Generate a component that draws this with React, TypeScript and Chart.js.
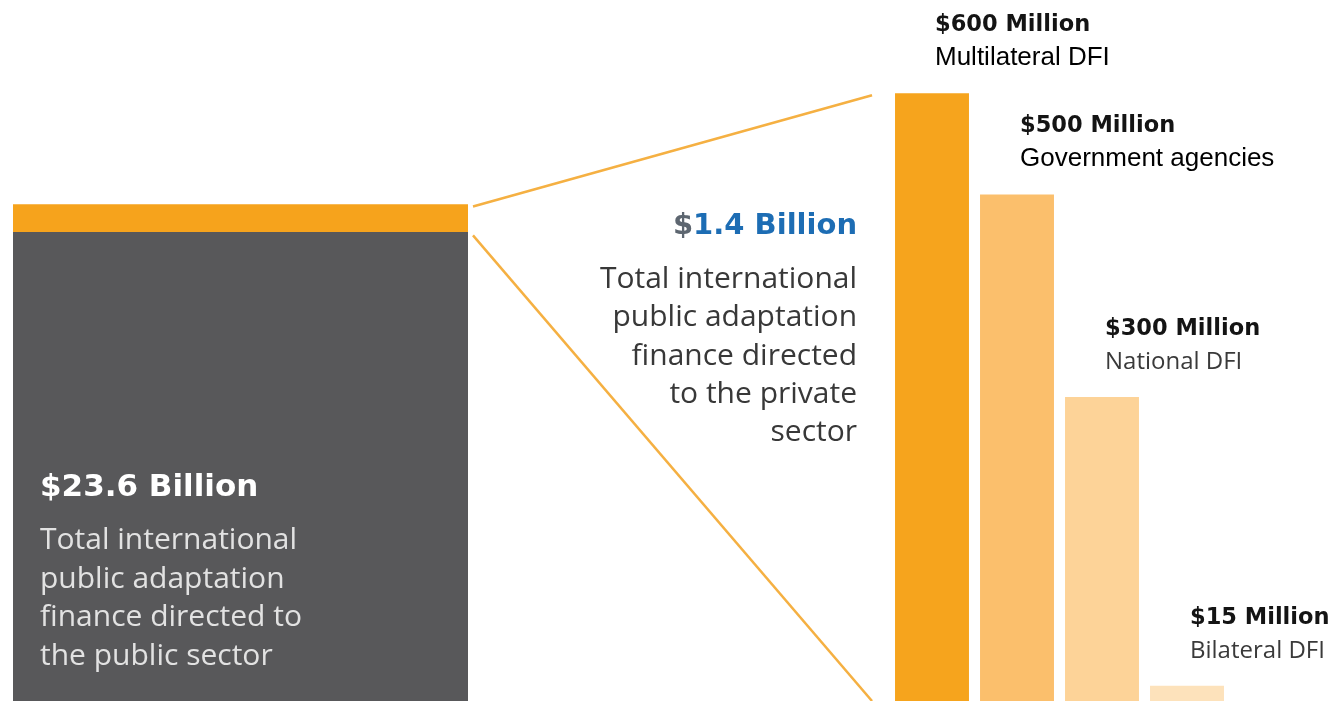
import React, { useEffect, useRef } from "react";
import { Chart, registerables } from "chart.js";

Chart.register(...registerables);

// ---- Data ----
const sectorLabels = ["International public adaptation finance"];
const publicSectorBillion = [23.6];
const privateSectorBillion = [1.4];

const channelCategories = ["Multilateral DFI", "Government agencies", "National DFI", "Bilateral DFI"];
const channelValuesMillion = [600, 500, 300, 15];
const channelValueLabels = ["$600 Million", "$500 Million", "$300 Million", "$15 Million"];

const publicTitle = "$23.6 Billion";
const publicLines = ["Total international", "public adaptation", "finance directed to", "the public sector"];
const privateTitleSign = "$";
const privateTitleRest = "1.4 Billion";
const privateLines = ["Total international", "public adaptation", "finance directed", "to the private", "sector"];

// ---- Styles ----
const GRAY = "#58585a";
const ORANGE = "#f6a31c";
const channelColors = ["#f6a41d", "#fbbf6c", "#fdd398", "#fde2bb"];
const LINE_COLOR = "#f5b042";

const LEFT_W = 470;
const RIGHT_W = 860;
const H = 701;

export default function App() {
  const leftRef = useRef<HTMLCanvasElement | null>(null);
  const rightRef = useRef<HTMLCanvasElement | null>(null);

  useEffect(() => {
    if (!leftRef.current || !rightRef.current) return;

    const leftTextPlugin = {
      id: "leftText",
      afterDatasetsDraw(chart: any) {
        const ctx = chart.ctx;
        const bar: any = chart.getDatasetMeta(0).data[0];
        const left = bar.x - bar.width / 2;
        const bottom = chart.chartArea.bottom;
        ctx.save();
        ctx.textAlign = "left";
        ctx.textBaseline = "alphabetic";
        ctx.fillStyle = "#ffffff";
        ctx.font = "bold 31px 'DejaVu Sans'";
        ctx.fillText(publicTitle, left + 27, bottom - 205);
        ctx.fillStyle = "#e2e2e2";
        ctx.font = "500 30px 'Open Sans'";
        publicLines.forEach((t, i) => {
          ctx.fillText(t, left + 27, bottom - 152 + i * 38.5);
        });
        ctx.restore();
      },
    };

    const leftChart = new Chart(leftRef.current, {
      type: "bar",
      data: {
        labels: sectorLabels,
        datasets: [
          {
            label: "Public sector",
            data: publicSectorBillion,
            backgroundColor: GRAY,
            barPercentage: 1,
            categoryPercentage: 1,
          },
          {
            label: "Private sector",
            data: privateSectorBillion,
            backgroundColor: ORANGE,
            barPercentage: 1,
            categoryPercentage: 1,
          },
        ],
      },
      options: {
        responsive: false,
        animation: false,
        layout: { padding: { left: 13, right: 2, top: 0, bottom: 0 } },
        plugins: { legend: { display: false }, tooltip: { enabled: false } },
        scales: {
          x: { stacked: true, display: false },
          y: { stacked: true, display: false, min: 0, max: 35.3 },
        },
      },
      plugins: [leftTextPlugin],
    });

    const rightPlugin = {
      id: "rightText",
      afterDatasetsDraw(chart: any) {
        const ctx = chart.ctx;
        const bars: any[] = chart.getDatasetMeta(0).data;
        // connector lines from the left stacked bar
        const lb: any = leftChart.getDatasetMeta(1).data[0];
        const lr = leftRef.current!.getBoundingClientRect();
        const rr = rightRef.current!.getBoundingClientRect();
        const dx = lr.left - rr.left;
        const startX = lb.x + lb.width / 2 + 5 + dx;
        const b0 = bars[0];
        const endX = b0.x - b0.width / 2 - 23;
        ctx.save();
        ctx.strokeStyle = LINE_COLOR;
        ctx.lineWidth = 2.5;
        ctx.beginPath();
        ctx.moveTo(startX, lb.y + 2);
        ctx.lineTo(endX, b0.y + 2);
        ctx.stroke();
        ctx.beginPath();
        ctx.moveTo(startX, lb.base + 3);
        ctx.lineTo(endX, b0.base);
        ctx.stroke();

        // middle text
        const rx = b0.x - b0.width / 2 - 38;
        ctx.textBaseline = "alphabetic";
        ctx.font = "bold 29px 'DejaVu Sans'";
        ctx.textAlign = "right";
        ctx.fillStyle = "#1d6db4";
        ctx.fillText(privateTitleRest, rx, 234);
        const w = ctx.measureText(privateTitleRest).width;
        ctx.fillStyle = "#5d6670";
        ctx.fillText(privateTitleSign, rx - w, 234);
        ctx.fillStyle = "#383838";
        ctx.font = "500 30px 'Open Sans'";
        privateLines.forEach((t, i) => {
          ctx.fillText(t, rx, 288 + i * 38.3);
        });

        // bar labels
        ctx.textAlign = "left";
        bars.forEach((b: any, i: number) => {
          const x = b.x + 3;
          ctx.fillStyle = "#141414";
          ctx.font = "bold 22.5px 'DejaVu Sans'";
          ctx.fillText(channelValueLabels[i], x, b.y - 62);
          if (i < 2) {
            ctx.fillStyle = "#000000";
            ctx.font = "26px 'Liberation Sans'";
          } else {
            ctx.fillStyle = "#3a3a3a";
            ctx.font = "500 24px 'Open Sans'";
          }
          ctx.fillText(channelCategories[i], x, b.y - 28);
        });
        ctx.restore();
      },
    };

    const rightChart = new Chart(rightRef.current, {
      type: "bar",
      data: {
        labels: channelCategories,
        datasets: [
          {
            label: "Private adaptation finance by channel",
            data: channelValuesMillion,
            backgroundColor: channelColors,
            barPercentage: 0.87,
            categoryPercentage: 1,
          },
        ],
      },
      options: {
        responsive: false,
        animation: false,
        layout: { padding: { left: 419.5, right: 100.5, top: 0, bottom: 0 } },
        plugins: { legend: { display: false }, tooltip: { enabled: false } },
        scales: {
          x: { display: false },
          y: { display: false, min: 0, max: 692 },
        },
      },
      plugins: [rightPlugin],
    });

    return () => {
      rightChart.destroy();
      leftChart.destroy();
    };
  }, []);

  return (
    <div
      style={{
        position: "fixed",
        left: 0,
        top: 0,
        width: LEFT_W + RIGHT_W,
        height: H,
        background: "#ffffff",
        overflow: "hidden",
      }}
    >
      <canvas
        ref={leftRef}
        width={LEFT_W}
        height={H}
        style={{ position: "absolute", left: 0, top: 0, width: LEFT_W, height: H }}
      />
      <canvas
        ref={rightRef}
        width={RIGHT_W}
        height={H}
        style={{ position: "absolute", left: LEFT_W, top: 0, width: RIGHT_W, height: H }}
      />
    </div>
  );
}
